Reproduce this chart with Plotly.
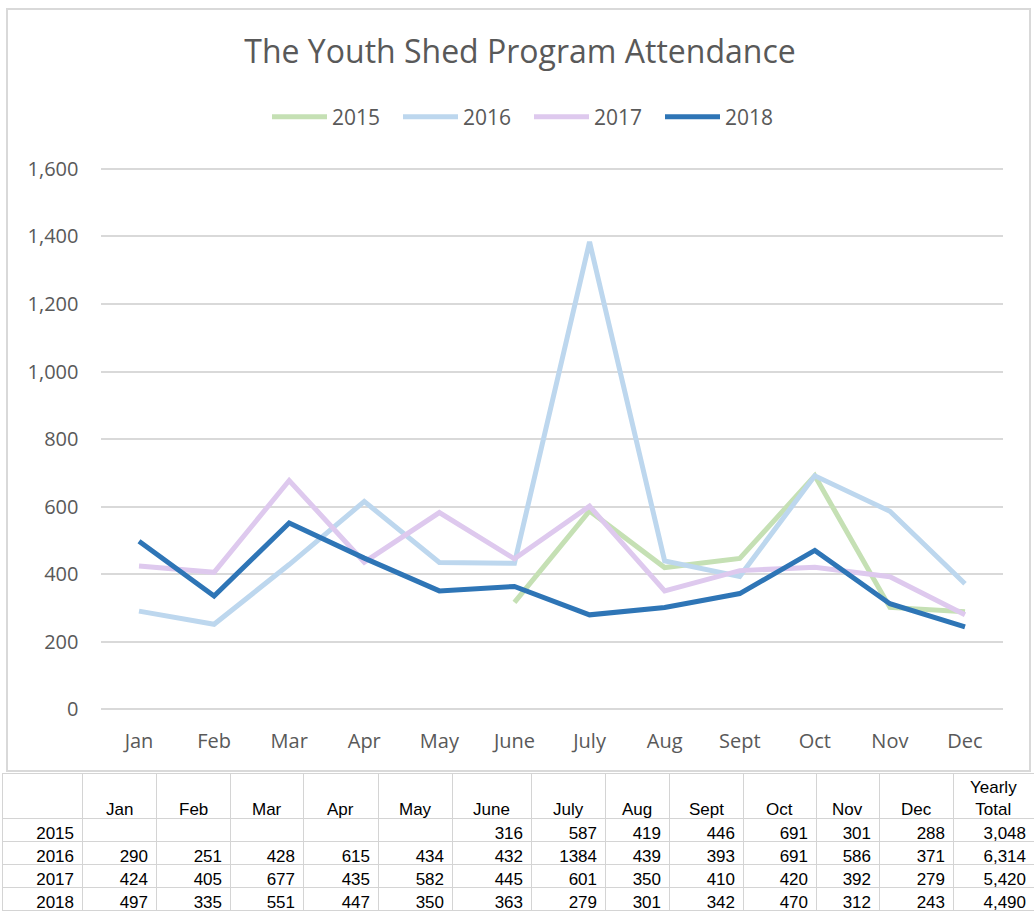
import plotly.graph_objects as go

# ---- data ----
months = ["Jan", "Feb", "Mar", "Apr", "May", "June", "July", "Aug", "Sept", "Oct", "Nov", "Dec"]
years = ["2015", "2016", "2017", "2018"]
att_2015 = [None, None, None, None, None, 316, 587, 419, 446, 691, 301, 288]
att_2016 = [290, 251, 428, 615, 434, 432, 1384, 439, 393, 691, 586, 371]
att_2017 = [424, 405, 677, 435, 582, 445, 601, 350, 410, 420, 392, 279]
att_2018 = [497, 335, 551, 447, 350, 363, 279, 301, 342, 470, 312, 243]
y_ticks = [0, 200, 400, 600, 800, 1000, 1200, 1400, 1600]
total_label = "Yearly<br>Total"

series = [att_2015, att_2016, att_2017, att_2018]
colors = ["#C5E0B4", "#BDD7EE", "#DEC9EE", "#2E75B6"]

W, H = 1034, 913
GRAY = "#595959"
FONT = "Open Sans"
TFONT = dict(family="Liberation Sans, Arial", size=17, color="black")
Y_TOP = 1610  # a little headroom so the 1,600 gridline is drawn

fig = go.Figure()
for name, vals, col in zip(years, series, colors):
    fig.add_trace(go.Scatter(
        x=months, y=vals, name=name, mode="lines",
        line=dict(color=col, width=5), connectgaps=False,
        xaxis="x", yaxis="y",
    ))

# ---- table below chart ----
def fmt(v):
    return "" if v is None else str(v)

col_widths = [80, 74, 74, 73, 75, 74, 79, 74, 64, 74, 73, 63, 74, 81]
cols = [years]
for i in range(len(months)):
    cols.append([fmt(s[i]) for s in series])
cols.append(["{:,}".format(sum(v for v in s if v is not None)) for s in series])

TABLE_LEFT = 2
TABLE_TOP = 773
HEADER_H = 45
fig.add_trace(go.Table(
    domain=dict(x=[TABLE_LEFT / W, 1], y=[0, (H - TABLE_TOP) / H]),
    columnwidth=col_widths,
    header=dict(values=[""] * len(col_widths), height=HEADER_H,
                line=dict(color="#D4D4D4", width=1), fill=dict(color="white"),
                font=TFONT),
    cells=dict(values=cols, align="right", height=23,
               line=dict(color="#D4D4D4", width=1), fill=dict(color="white"),
               font=TFONT),
))

# header labels, bottom-aligned as in the spreadsheet
annotations = []
left = TABLE_LEFT
centers = []
for w in col_widths:
    centers.append(left + w / 2)
    left += w
header_labels = [""] + months + [total_label]
for cx, lab in zip(centers, header_labels):
    if not lab:
        continue
    annotations.append(dict(
        text=lab, xref="paper", yref="paper", x=cx / W, y=(H - TABLE_TOP - HEADER_H - 3) / H,
        xanchor="center", yanchor="bottom", showarrow=False, font=TFONT, align="center",
    ))

px_per_unit = 540 / 1600
y_top_px = 709 - Y_TOP * px_per_unit

fig.update_layout(
    width=W, height=H, autosize=False,
    margin=dict(l=0, r=0, t=0, b=0, pad=0, autoexpand=False),
    paper_bgcolor="white", plot_bgcolor="white",
    font=dict(family=FONT, color=GRAY),
    title=dict(text="The Youth Shed Program Attendance", x=520 / W, xanchor="center",
               y=(H - 52) / H, yanchor="middle",
               font=dict(family=FONT, size=32, color=GRAY)),
    showlegend=True,
    legend=dict(orientation="h", x=529 / W, xanchor="center", y=(H - 117) / H, yanchor="middle",
                itemwidth=55, entrywidth=61, entrywidthmode="pixels",
                font=dict(family=FONT, size=21, color=GRAY), bgcolor="rgba(0,0,0,0)"),
    xaxis=dict(domain=[101.45 / W, 1002.55 / W], type="category", range=[-0.5, 11.5],
               showgrid=False, showline=False, zeroline=False, ticks="", automargin=False,
               ticklabelstandoff=18,
               tickfont=dict(family=FONT, size=20, color=GRAY)),
    yaxis=dict(domain=[(H - 709) / H, (H - y_top_px) / H], range=[0, Y_TOP], tickvals=y_ticks,
               tickformat=",", showgrid=True, gridcolor="#D9D9D9", gridwidth=1.5,
               zeroline=True, zerolinecolor="#D9D9D9", zerolinewidth=1.5,
               showline=False, ticks="", ticklabelstandoff=22, automargin=False,
               tickfont=dict(family=FONT, size=20, color=GRAY)),
    annotations=annotations,
    shapes=[dict(type="rect", xref="paper", yref="paper",
                 x0=7 / W, x1=1030 / W, y0=(H - 771) / H, y1=(H - 9) / H,
                 line=dict(color="#D9D9D9", width=2), fillcolor="rgba(0,0,0,0)", layer="below")],
)

fig.write_html("out.html", config={"displayModeBar": False},
               post_script="document.body.style.margin='0';")
